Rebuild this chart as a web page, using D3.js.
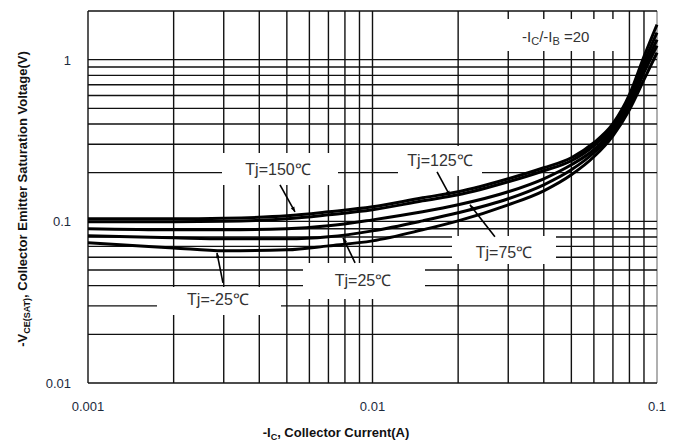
<!DOCTYPE html>
<html><head><meta charset="utf-8">
<script src="https://cdn.jsdelivr.net/npm/d3@7/dist/d3.min.js"></script>
<style>body{margin:0;background:#fff}svg{display:block}</style>
</head><body>
<svg id="c" width="681" height="443"></svg>
<script>
// Collector current (A)
const current = [0.001,0.002,0.003,0.005,0.007,0.01,0.015,0.02,0.03,0.04,0.05,0.06,0.07,0.08,0.09,0.1];
// -VCE(SAT) (V) per junction temperature
const tj150 = [0.1036,0.1036,0.1044,0.1081,0.1145,0.1230,0.1399,0.1523,0.1833,0.2144,0.2473,0.3063,0.4015,0.6072,1.0437,1.647];
const tj125 = [0.0993,0.0993,0.1000,0.1036,0.1097,0.1178,0.1339,0.1459,0.1756,0.2055,0.2370,0.2935,0.3847,0.5653,0.9582,1.470];
const tj75  = [0.0899,0.0886,0.0886,0.0899,0.0938,0.1021,0.1145,0.1265,0.1523,0.1833,0.2238,0.2772,0.3686,0.5340,0.8922,1.330];
const tj25  = [0.0813,0.0791,0.0779,0.0779,0.0802,0.0873,0.1007,0.1129,0.1379,0.1683,0.2084,0.2656,0.3532,0.5117,0.8309,1.221];
const tjm25 = [0.0736,0.0685,0.0657,0.0666,0.0705,0.0757,0.0886,0.1007,0.1265,0.1545,0.1941,0.2508,0.3384,0.4901,0.7518,1.105];
const seriesNames = ["Tj=150℃","Tj=125℃","Tj=75℃","Tj=25℃","Tj=-25℃"];
const xTicks = [0.001,0.01,0.1];
const xTickLabels = ["0.001","0.01","0.1"];
const yTicks = [0.01,0.1,1];
const yTickLabels = ["0.01","0.1","1"];

const svg = d3.select("#c");
const L=88,R=657,T=11,B=383;
const x = d3.scaleLog().domain([0.001,0.1]).range([L,R]);
const y = d3.scaleLog().domain([0.01,2]).range([B,T]);

// grid
const xg=[], yg=[];
[0.001,0.01].forEach(d=>{for(let k=1;k<=9;k++) xg.push(d*k);}); xg.push(0.1);
[0.01,0.1].forEach(d=>{for(let k=1;k<=9;k++) yg.push(d*k);}); yg.push(1);
const g = svg.append("g");
g.selectAll(".vx").data(xg).join("line").attr("x1",d=>x(d)).attr("x2",d=>x(d)).attr("y1",T).attr("y2",B)
 .attr("stroke",d=>Math.abs(d-0.1)<1e-9?"#b0b0b0":"#111").attr("stroke-width",d=>Math.abs(d-0.1)<1e-9?2:1.4);
g.selectAll(".hy").data(yg).join("line").attr("x1",L).attr("x2",R).attr("y1",d=>y(d)).attr("y2",d=>y(d))
 .attr("stroke","#111").attr("stroke-width",1.4);
g.append("line").attr("x1",L).attr("x2",R).attr("y1",T).attr("y2",T).attr("stroke","#111").attr("stroke-width",1.4);

// label boxes (white, hiding grid)
const boxes = [[503,19,118,32],[222,153,116,32],[398,146,84,30],[452,236,104,28],[303,263,122,36],[157,287,124,28]];
svg.selectAll(".bx").data(boxes).join("rect").attr("x",d=>d[0]).attr("y",d=>d[1]).attr("width",d=>d[2]).attr("height",d=>d[3]).attr("fill","#fff");

// curves
const all=[tj150,tj125,tj75,tj25,tjm25];
const line = d3.line().x((d,i)=>x(current[i])).y(d=>y(d)).curve(d3.curveMonotoneX);
svg.selectAll(".crv").data(all).join("path").attr("d",d=>line(d)).attr("fill","none")
 .attr("stroke","#000").attr("stroke-width",3);

// annotation arrows: tip in data coords, tail offset px
const arrows = [[0.00534,0.1145,-15,-27],[0.01873,0.1438,-13,-24],[0.0220,0.1265,25,32],[0.00788,0.0791,12,25],[0.00284,0.0638,6,30]];
svg.append("defs").append("marker").attr("id","ah").attr("viewBox","0 0 10 10").attr("refX",10).attr("refY",5)
 .attr("markerWidth",7).attr("markerHeight",5).attr("orient","auto").attr("markerUnits","userSpaceOnUse")
 .append("path").attr("d","M0,1 L10,5 L0,9 Z").attr("fill","#000");
svg.selectAll(".ar").data(arrows).join("line")
 .attr("x1",d=>x(d[0])+d[2]).attr("y1",d=>y(d[1])+d[3]).attr("x2",d=>x(d[0])).attr("y2",d=>y(d[1]))
 .attr("stroke","#000").attr("stroke-width",1.6).attr("marker-end","url(#ah)");

const font="'Liberation Sans', Arial, sans-serif";
const lab = [[278,175],[440,166],[504,258],[363,286],[218,305]];
svg.selectAll(".tl").data(seriesNames).join("text").attr("x",(d,i)=>lab[i][0]).attr("y",(d,i)=>lab[i][1])
 .attr("text-anchor","middle").attr("font-family",font).attr("font-size",16).attr("fill","#333").text(d=>d);

// Ic/Ib annotation
const t = svg.append("text").attr("x",522).attr("y",42).attr("font-family",font).attr("font-size",15).attr("fill","#333");
t.append("tspan").text("-I");
t.append("tspan").attr("font-size",11).attr("dy",3).text("C");
t.append("tspan").attr("dy",-3).text("/-I");
t.append("tspan").attr("font-size",11).attr("dy",3).text("B");
t.append("tspan").attr("dy",-3).text(" =20");

// tick labels
svg.selectAll(".xt").data(xTicks).join("text").attr("x",d=>x(d)).attr("y",411).attr("text-anchor","middle")
 .attr("font-family",font).attr("font-size",13).attr("fill","#1c2a3c").text((d,i)=>xTickLabels[i]);
svg.selectAll(".yt").data(yTicks).join("text").attr("x",71).attr("y",d=>y(d)+5).attr("text-anchor","end")
 .attr("font-family",font).attr("font-size",13).attr("fill","#1c2a3c").text((d,i)=>yTickLabels[i]);

// axis titles
const xt = svg.append("text").attr("x",336).attr("y",437).attr("text-anchor","middle").attr("font-family",font)
 .attr("font-size",13).attr("font-weight","bold").attr("fill","#111");
xt.append("tspan").text("-I"); xt.append("tspan").attr("font-size",9).attr("dy",3).text("C");
xt.append("tspan").attr("dy",-3).text(", Collector Current(A)");
const yt = svg.append("text").attr("transform","translate(27,199) rotate(-90)").attr("text-anchor","middle")
 .attr("font-family",font).attr("font-size",13).attr("font-weight","bold").attr("fill","#111");
yt.append("tspan").text("-V"); yt.append("tspan").attr("font-size",9).attr("dy",3).text("CE(SAT)");
yt.append("tspan").attr("dy",-3).text(",  Collector Emitter Saturation Voltage(V)");
</script>
</body></html>
